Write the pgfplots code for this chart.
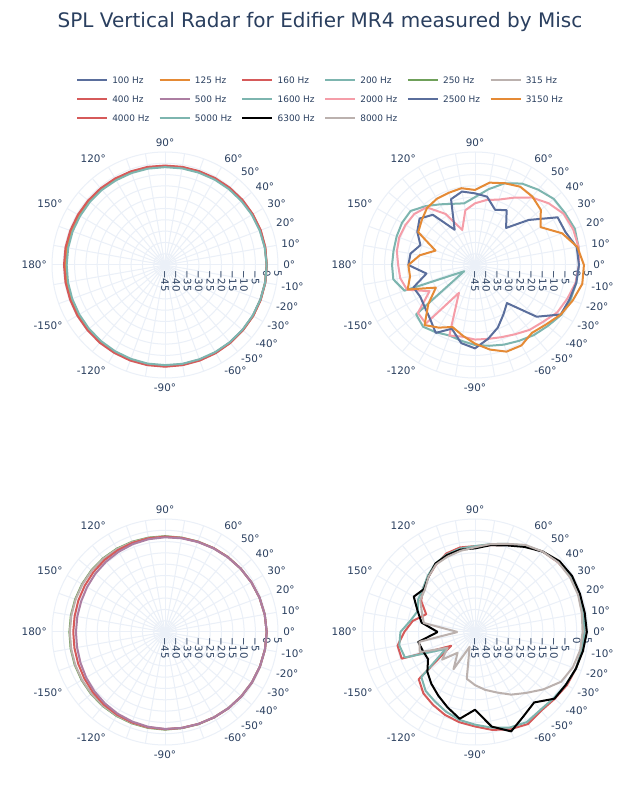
\documentclass[border=0pt]{standalone}
\usepackage{pgfplots}
\pgfplotsset{compat=1.18}
\usepackage{pgfplotstable}
\usepackage{fontspec}
\setmainfont{DejaVu Sans}

\definecolor{txt}{HTML}{2A3F5F}
\definecolor{grd}{HTML}{EBF0F8}
\definecolor{cA}{HTML}{5A6E9C}% 100, 2500
\definecolor{cB}{HTML}{E58A35}% 125, 3150
\definecolor{cC}{HTML}{D65A5A}% 160, 400, 4000
\definecolor{cD}{HTML}{7DB5AF}% 200, 1600, 5000
\definecolor{cE}{HTML}{6FA05A}% 250
\definecolor{cF}{HTML}{BBB1AE}% 315, 8000
\definecolor{cG}{HTML}{AC7EA2}% 500
\definecolor{cH}{HTML}{F59DA8}% 2000

% angle, SPL (dB) per frequency
\pgfplotstableread{
a s100 s125 s160 s200
-180 -1.0 -0.7 -0.3 -1.5
-170 -1.0 -0.7 -0.3 -1.4
-160 -0.9 -0.6 -0.3 -1.3
-150 -0.8 -0.5 -0.2 -1.2
-140 -0.7 -0.5 -0.2 -1.1
-130 -0.6 -0.4 -0.1 -1.0
-120 -0.5 -0.3 -0.1 -0.9
-110 -0.4 -0.3 0.0 -0.8
-100 -0.4 -0.2 0.0 -0.7
-90 -0.4 -0.2 0.0 -0.7
-80 -0.4 -0.2 0.0 -0.6
-70 -0.4 -0.2 0.0 -0.6
-60 -0.3 -0.2 0.0 -0.5
-50 -0.3 -0.1 0.0 -0.4
-40 -0.2 -0.1 0.0 -0.3
-30 -0.1 0.0 0.1 -0.2
-20 -0.1 0.0 0.1 -0.1
-10 0.0 0.0 0.1 0.0
0 0.0 0.0 0.0 0.0
10 -0.1 0.0 0.1 -0.2
20 -0.2 -0.1 0.1 -0.4
30 -0.4 -0.2 -0.1 -0.6
40 -0.6 -0.4 -0.2 -0.9
50 -0.8 -0.6 -0.4 -1.1
60 -1.0 -0.8 -0.6 -1.3
70 -1.2 -1.0 -0.8 -1.5
80 -1.3 -1.1 -0.9 -1.6
90 -1.4 -1.2 -1.0 -1.7
100 -1.4 -1.2 -0.9 -1.7
110 -1.4 -1.1 -0.9 -1.7
120 -1.3 -1.1 -0.8 -1.7
130 -1.2 -1.0 -0.7 -1.6
140 -1.2 -0.9 -0.6 -1.6
150 -1.1 -0.9 -0.5 -1.6
160 -1.1 -0.8 -0.4 -1.5
170 -1.0 -0.7 -0.3 -1.5
180 -1.0 -0.7 -0.3 -1.5
}\tTL

\pgfplotstableread{
a s250 s315 s400 s500
-180 -2.7 -2.9 -4.4 -5.6
-170 -2.6 -2.8 -4.3 -5.5
-160 -2.5 -2.7 -4.1 -5.2
-150 -2.4 -2.6 -3.8 -4.7
-140 -2.3 -2.5 -3.4 -4.2
-130 -2.2 -2.4 -3.0 -3.7
-120 -2.1 -2.3 -2.7 -3.2
-110 -2.0 -2.2 -2.4 -2.8
-100 -1.9 -2.1 -2.2 -2.4
-90 -1.8 -2.0 -2.0 -2.1
-80 -1.8 -1.9 -1.9 -1.9
-70 -1.6 -1.7 -1.7 -1.7
-60 -1.4 -1.5 -1.4 -1.4
-50 -1.1 -1.2 -1.1 -1.1
-40 -0.8 -0.9 -0.8 -0.8
-30 -0.5 -0.6 -0.5 -0.5
-20 -0.3 -0.3 -0.3 -0.3
-10 -0.1 -0.1 -0.1 -0.1
0 0.0 0.0 0.0 0.0
10 -0.2 -0.2 -0.2 -0.2
20 -0.5 -0.5 -0.5 -0.5
30 -0.9 -0.9 -0.9 -0.9
40 -1.3 -1.4 -1.3 -1.3
50 -1.7 -1.8 -1.7 -1.8
60 -2.1 -2.2 -2.1 -2.2
70 -2.4 -2.5 -2.5 -2.6
80 -2.6 -2.7 -2.7 -2.9
90 -2.6 -2.8 -2.8 -3.1
100 -2.6 -2.8 -2.9 -3.3
110 -2.5 -2.7 -3.0 -3.6
120 -2.4 -2.6 -3.2 -4.0
130 -2.4 -2.6 -3.4 -4.4
140 -2.5 -2.7 -3.7 -4.8
150 -2.6 -2.8 -4.0 -5.2
160 -2.7 -2.9 -4.2 -5.5
170 -2.7 -2.9 -4.4 -5.6
180 -2.7 -2.9 -4.4 -5.6
}\tBL

\pgfplotstableread{
a s1600 s2000 s2500 s3150
-180 -8.3 -11.0 -15.5 -15.5
-170 -8.3 -11.4 -23.2 -15.8
-160 -11.8 -13.0 -16.0 -13.3
-150 -39.5 -21.8 -17.0 -25.0
-140 -11.0 -12.0 -16.0 -18.0
-130 -9.3 -11.2 -14.0 -10.3
-120 -10.6 -30.8 -10.3 -13.0
-110 -11.8 -11.8 -15.0 -15.8
-100 -10.9 -12.8 -9.9 -13.3
-90 -9.6 -12.0 -8.1 -10.2
-80 -8.7 -11.8 -11.8 -7.0
-70 -7.5 -11.0 -15.5 -4.2
-60 -6.2 -9.6 -19.8 -3.9
-50 -4.5 -7.5 -23.0 -5.8
-40 -3.0 -5.8 -9.4 -4.0
-30 -0.9 -3.0 -1.2 -1.2
-20 0.0 -1.5 -0.5 1.0
-10 0.5 0.2 0.5 3.2
0 1.0 1.0 1.0 3.2
10 1.5 1.5 0.7 1.0
20 2.0 1.2 -2.4 -4.0
30 1.0 0.3 -2.8 -11.5
40 0.5 -2.5 -14.0 -7.0
50 -1.5 -6.0 -23.6 -5.5
60 -3.4 -10.6 -17.0 -5.0
70 -6.5 -14.2 -19.0 -6.5
80 -11.0 -15.8 -14.3 -8.0
90 -15.0 -17.7 -13.3 -11.8
100 -17.3 -20.4 -12.0 -10.5
110 -16.2 -28.5 -14.0 -11.0
120 -14.0 -18.9 -27.0 -11.2
130 -11.0 -11.7 -16.0 -12.0
140 -7.8 -9.9 -13.0 -14.2
150 -7.7 -9.5 -15.5 -16.0
160 -8.1 -9.3 -19.3 -26.4
170 -8.4 -9.9 -16.0 -20.2
180 -8.3 -11.0 -15.5 -15.5
}\tTR

\pgfplotstableread{
a s4000 s5000 s6300 s8000
-180 -13.7 -12.0 -28.5 -37.3
-170 -10.2 -11.0 -19.5 -20.0
-160 -10.5 -12.0 -20.5 -19.0
-150 -32.8 -30.0 -21.0 -31.0
-140 -12.5 -14.0 -17.5 -26.0
-130 -9.5 -11.0 -15.0 -33.0
-120 -7.8 -9.5 -12.5 -26.0
-110 -6.0 -7.5 -9.5 -38.0
-100 -4.5 -5.5 -6.0 -24.0
-90 -3.2 -4.0 -10.6 -21.5
-80 -1.0 -2.0 -2.5 -19.0
-70 0.8 0.0 1.8 -16.5
-60 2.0 1.0 -2.0 -13.0
-50 0.5 0.0 -4.3 -9.8
-40 1.0 0.5 0.9 -5.5
-30 2.0 1.5 1.5 -1.0
-20 2.5 2.5 2.5 1.0
-10 3.0 3.0 3.5 2.2
0 3.5 3.5 4.5 2.6
10 4.0 3.8 4.3 3.0
20 4.0 4.0 4.4 3.5
30 4.0 4.0 4.6 3.5
40 3.0 3.2 3.8 3.0
50 1.5 1.5 1.5 1.5
60 -1.0 -0.8 -1.5 -0.5
70 -4.0 -3.5 -4.2 -3.5
80 -6.0 -5.5 -6.0 -5.5
90 -7.0 -7.0 -8.0 -7.5
100 -7.0 -7.5 -8.0 -8.5
110 -8.0 -8.5 -8.8 -9.5
120 -10.5 -10.0 -10.0 -10.5
130 -13.0 -12.5 -13.0 -13.0
140 -15.0 -15.0 -15.5 -16.0
150 -17.5 -16.0 -13.7 -17.0
160 -22.0 -18.0 -18.0 -20.0
170 -17.0 -16.0 -21.0 -22.0
180 -13.7 -12.0 -28.5 -37.3
}\tBR

\pgfplotsset{
  radar/.style={width=169.5pt, height=169.5pt, scale only axis,
    xmin=-50, xmax=50, ymin=-50, ymax=50, hide axis, clip=false,
    anchor=center},
}
% radial value r in dB -> distance r+45 from the centre
\newcommand{\spl}[3]{\addplot[#1, line width=1.5pt, line join=round]
  table[x expr={(\thisrow{#2}+45)*cos(\thisrow{a})},
        y expr={(\thisrow{#2}+45)*sin(\thisrow{a})}] {#3};}

\newcommand{\radargrid}[2]{%
  \begin{scope}[shift={(#1,#2)}]
    \foreach \t in {0,10,...,350} \draw[grd, line width=0.75pt] (0,0) -- (\t:113);
    \foreach \k in {1,...,10} \draw[grd, line width=0.75pt] (0,0) circle[radius=\k*11.3];
    \foreach \t/\l in {0/0°,10/10°,20/20°,30/30°,40/40°,50/50°,60/60°,90/90°,
        120/120°,150/150°,180/180°,-150/-150°,-120/-120°,-90/-90°,-60/-60°,
        -50/-50°,-40/-40°,-30/-30°,-20/-20°,-10/-10°} {
      \pgfmathsetmacro{\cs}{cos(\t)}
      \ifdim\cs pt>0.1pt \def\an{west}\else\ifdim\cs pt<-0.1pt \def\an{east}\else\def\an{center}\fi\fi
      \node[anchor=\an, inner sep=0pt, yshift={3.2pt*sin(\t)}, text=txt,
            font=\fontsize{7.8pt}{9pt}\selectfont] at (\t:118) {\l};
    }
    \foreach \l [count=\i from 0] in {−45,−40,−35,−30,−25,−20,−15,−10,−5,0,5}
      \node[rotate=-90, anchor=west, inner sep=0pt, text=txt, font=\fontsize{7.6pt}{9pt}\selectfont] at (\i*11.3,-5) {\l};
  \end{scope}}

\begin{document}
\begin{tikzpicture}[x=0.75pt, y=0.75pt]
\fill[white] (0,0) rectangle (640,800);
\path[use as bounding box] (0,0) rectangle (640,800);

\node[text=txt, font=\fontsize{15pt}{18pt}\selectfont] at (320,778) {SPL Vertical Radar for Edifier MR4 measured by Misc};

% legend
\foreach \c/\l [count=\i from 0] in {cA/100 Hz, cB/125 Hz, cC/160 Hz, cD/200 Hz, cE/250 Hz, cF/315 Hz,
    cC/400 Hz, cG/500 Hz, cD/1600 Hz, cH/2000 Hz, cA/2500 Hz, cB/3150 Hz,
    cC/4000 Hz, cD/5000 Hz, black/6300 Hz, cF/8000 Hz} {
  \pgfmathsetmacro{\lx}{77+82.7*mod(\i,6)}
  \pgfmathsetmacro{\ly}{800-80-19*floor(\i/6)}
  \draw[\c, line width=1.5pt] (\lx,\ly) -- ++(30,0);
  \node[anchor=west, inner sep=0pt, text=txt, font=\fontsize{6.7pt}{8pt}\selectfont] at (\lx+35,\ly) {\l};
}

\radargrid{165}{535}
\radargrid{475}{535}
\radargrid{165}{168}
\radargrid{475}{168}

\begin{axis}[radar, at={(123.75pt,401.25pt)}]
\spl{cA}{s100}{\tTL}
\spl{cB}{s125}{\tTL}
\spl{cC}{s160}{\tTL}
\spl{cD}{s200}{\tTL}
\end{axis}

\begin{axis}[radar, at={(356.25pt,401.25pt)}]
\spl{cD}{s1600}{\tTR}
\spl{cH}{s2000}{\tTR}
\spl{cA}{s2500}{\tTR}
\spl{cB}{s3150}{\tTR}
\end{axis}

\begin{axis}[radar, at={(123.75pt,126pt)}]
\spl{cE}{s250}{\tBL}
\spl{cF}{s315}{\tBL}
\spl{cC}{s400}{\tBL}
\spl{cG}{s500}{\tBL}
\end{axis}

\begin{axis}[radar, at={(356.25pt,126pt)}]
\spl{cC}{s4000}{\tBR}
\spl{cD}{s5000}{\tBR}
\spl{black}{s6300}{\tBR}
\spl{cF}{s8000}{\tBR}
\end{axis}
\end{tikzpicture}
\end{document}
